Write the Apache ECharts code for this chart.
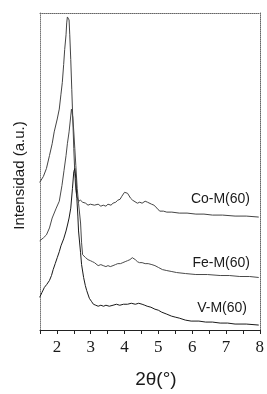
<!DOCTYPE html>
<html>
<head>
<meta charset="utf-8">
<script src="https://cdn.jsdelivr.net/npm/echarts@6/dist/echarts.min.js"></script>
<style>
html, body { margin: 0; padding: 0; background: #fff; }
#chart { width: 267px; height: 394px; }
</style>
</head>
<body>
<div id="chart"></div>
<script>
// 2theta (deg) and intensity (a.u.)
var coData = [
	[1.49,149],[1.60,155],[1.69,163],[1.78,176],[1.86,188],[1.92,200],[2.01,213],[2.07,223],
	[2.12,238],[2.16,250],[2.20,268],[2.23,283],[2.27,298],[2.29,310],[2.31,316],[2.33,318],
	[2.36,313],[2.38,298],[2.41,273],[2.44,243],[2.47,213],[2.50,183],[2.53,158],[2.56,141],
	[2.59,135],[2.64,130],[2.70,131],[2.76,129],[2.85,128],[2.92,126],[2.99,127],[3.11,126],
	[3.22,127],[3.30,125],[3.37,126],[3.45,125],[3.51,127],[3.60,126],[3.66,128],[3.74,129],
	[3.80,131],[3.87,132],[3.92,135],[3.97,137],[4.00,139],[4.05,140],[4.09,138],[4.14,136],
	[4.18,133],[4.24,131],[4.29,130],[4.38,128],[4.45,129],[4.52,128],[4.61,130],[4.68,129],
	[4.73,128],[4.80,127],[4.87,126],[4.96,123],[5.04,120],[5.15,120],[5.25,119],[5.40,119],
	[5.62,118],[5.85,118],[6.11,117],[6.35,117],[6.60,116],[6.90,116],[7.27,115],[7.60,115],
	[7.97,114]
];
var feData = [
	[1.49,90],[1.60,93],[1.69,96],[1.78,103],[1.86,113],[1.98,123],[2.07,130],[2.15,146],
	[2.21,161],[2.27,176],[2.31,188],[2.36,200],[2.40,213],[2.43,223],[2.47,215],[2.50,200],
	[2.53,183],[2.56,166],[2.60,143],[2.64,128],[2.70,108],[2.73,88],[2.76,76],[2.80,75],
	[2.85,73],[2.92,71],[2.99,70],[3.05,69],[3.11,68],[3.16,67],[3.22,65],[3.30,66],
	[3.37,65],[3.45,64],[3.51,65],[3.58,64],[3.66,65],[3.73,66],[3.80,67],[3.88,67],
	[3.95,68],[4.02,69],[4.09,70],[4.16,71],[4.23,73],[4.27,72],[4.32,71],[4.38,69],
	[4.44,68],[4.52,68],[4.61,67],[4.70,67],[4.81,66],[4.90,65],[5.01,63],[5.12,61],
	[5.25,60],[5.40,59],[5.54,58],[5.80,57],[6.11,56],[6.45,56],[6.83,55],[7.10,55],
	[7.41,54],[7.70,54],[7.97,53]
];
var vData = [
	[1.49,33],[1.56,38],[1.63,43],[1.70,46],[1.78,50],[1.84,55],[1.89,61],[1.95,67],
	[2.01,73],[2.07,79],[2.12,85],[2.20,92],[2.27,100],[2.32,107],[2.36,113],[2.41,123],
	[2.46,143],[2.50,160],[2.53,163],[2.56,153],[2.59,133],[2.62,115],[2.64,100],[2.70,78],
	[2.73,66],[2.79,53],[2.84,45],[2.88,40],[2.96,32],[3.02,29],[3.08,26],[3.15,25],
	[3.22,24],[3.30,25],[3.38,24],[3.45,25],[3.55,24],[3.66,25],[3.76,26],[3.86,25],
	[3.97,26],[4.09,26],[4.20,27],[4.32,26],[4.42,27],[4.52,26],[4.60,25],[4.67,24],
	[4.78,23],[4.90,21],[5.00,20],[5.10,18],[5.25,16],[5.39,14],[5.50,13],[5.62,12],
	[5.80,10],[5.97,9],[6.20,9],[6.40,8],[6.60,8],[6.83,7],[7.05,7],[7.27,6],
	[7.60,6],[7.97,5]
];
var seriesNames = ['Co-M(60)', 'Fe-M(60)', 'V-M(60)'];
var xTickLabels = ['2', '3', '4', '5', '6', '7', '8'];

var chart = echarts.init(document.getElementById('chart'));

var lineSeries = function(name, data, color){
	return {
		name: name,
		type: 'line',
		data: data,
		symbol: 'none',
		smooth: false,
		lineStyle: { color: color, width: 1 }
	};
};

var curveLabel = function(text, right, top){
	return {
		type: 'text',
		right: right,
		top: top,
		style: {
			text: text,
			fill: '#1a1a1a',
			font: '14px "Liberation Sans", Arial, sans-serif'
		}
	};
};

// frame lines (top / right / left) are dotted like the scan
var frameLine = function(color){
	return { show: true, onZero: false, lineStyle: { color: color, width: 1, type: 'dotted' } };
};

chart.setOption({
	animation: false,
	backgroundColor: '#fff',
	grid: { left: 40, right: 5, top: 13, bottom: 61 },
	xAxis: [
		{
			type: 'value',
			min: 1.5,
			max: 8,
			interval: 0.5,
			name: '2θ(°)',
			nameLocation: 'middle',
			nameGap: 40,
			nameTextStyle: { fontFamily: '"Liberation Sans", Arial, sans-serif', fontSize: 19, color: '#1a1a1a', padding: [0, 0, 0, 12] },
			axisLine: { onZero: false, lineStyle: { color: '#222', width: 1 } },
			axisTick: { show: true, length: 4, inside: false, lineStyle: { color: '#222' } },
			splitLine: { show: false },
			axisLabel: {
				margin: 9,
				fontFamily: '"Liberation Serif", "DejaVu Serif", serif',
				fontSize: 17,
				color: '#1a1a1a',
				showMaxLabel: true,
				formatter: function(v){
					var s = String(Math.round(v));
					return (Math.abs(v - Math.round(v)) < 1e-6 && xTickLabels.indexOf(s) >= 0) ? s : '';
				}
			}
		},
		{
			type: 'value',
			position: 'top',
			min: 1.5,
			max: 8,
			axisLine: frameLine('#666'),
			axisTick: { show: false },
			axisLabel: { show: false },
			splitLine: { show: false }
		}
	],
	yAxis: [
		{
			type: 'value',
			min: 0,
			max: 320,
			name: 'Intensidad (a.u.)',
			nameLocation: 'middle',
			nameGap: 13,
			nameTextStyle: { fontFamily: '"Liberation Sans", Arial, sans-serif', fontSize: 15, color: '#1a1a1a', padding: [0, 0, 0, -8] },
			axisLine: frameLine('#777'),
			axisTick: { show: false },
			axisLabel: { show: false },
			splitLine: { show: false }
		},
		{
			type: 'value',
			position: 'right',
			min: 0,
			max: 320,
			axisLine: frameLine('#666'),
			axisTick: { show: false },
			axisLabel: { show: false },
			splitLine: { show: false }
		}
	],
	series: [
		lineSeries(seriesNames[0], coData, '#444'),
		lineSeries(seriesNames[1], feData, '#4a4a4a'),
		lineSeries(seriesNames[2], vData, '#1a1a1a')
	],
	graphic: [
		curveLabel(seriesNames[0], 17, 192),
		curveLabel(seriesNames[1], 17, 256),
		curveLabel(seriesNames[2], 20, 301)
	]
});
</script>
</body>
</html>
